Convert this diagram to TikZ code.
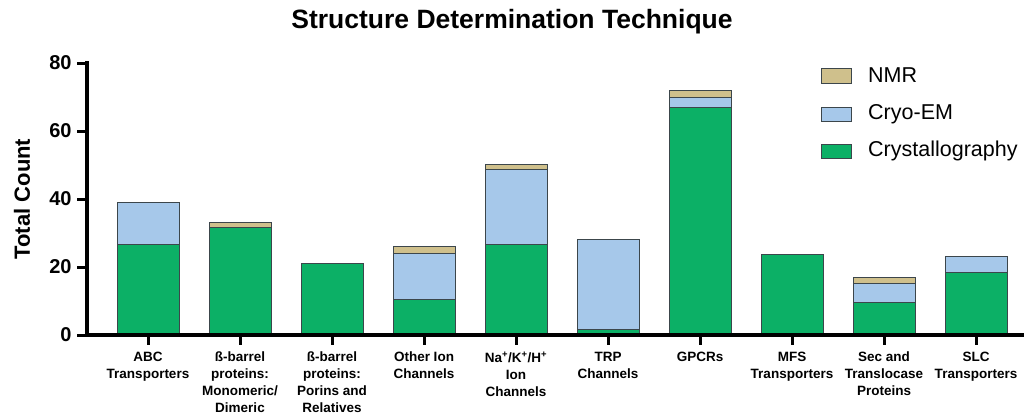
\documentclass[tikz,border=0pt]{standalone}
\usepackage{fontspec}
\setmainfont{Liberation Sans}
\definecolor{crys}{RGB}{12,176,102}
\definecolor{cryo}{RGB}{166,200,234}
\definecolor{nmr}{RGB}{207,192,140}
\definecolor{edge}{RGB}{60,70,75}
\tikzset{
  seg/.style={draw=edge, line width=0.9pt},
  axis/.style={line width=3.2pt, line cap=rect},
  tick/.style={line width=3pt},
  ylab/.style={anchor=east, inner sep=0pt, font=\fontsize{20}{22}\selectfont\bfseries},
  xlab/.style={anchor=north, inner sep=0pt, align=center, font=\fontsize{13.5}{17}\selectfont\bfseries},
  leg/.style={anchor=west, inner sep=0pt, font=\fontsize{21.5}{24}\selectfont},
}
\newcommand\segm[4]{% x, bottom value, top value, colour
  \filldraw[seg, fill=#4] ({#1-31},{335-3.4*#2}) rectangle ({#1+31},{335-3.4*#3});}
\begin{document}
\begin{tikzpicture}[x=1pt, y=-1pt]
\path[use as bounding box, fill=white] (0,0) rectangle (1026,416);
% title
\node[font=\fontsize{26.5}{30}\selectfont\bfseries, inner sep=0pt] (title) at (512,22) {Structure Determination Technique};
% bars
\segm{148}{0}{26.5}{crys}\segm{148}{26.5}{39}{cryo}
\segm{240}{0}{31.5}{crys}\segm{240}{31.5}{33.2}{nmr}
\segm{332}{0}{21}{crys}
\segm{424}{0}{10.5}{crys}\segm{424}{10.5}{24.1}{cryo}\segm{424}{24.1}{25.9}{nmr}
\segm{516}{0}{26.5}{crys}\segm{516}{26.5}{48.8}{cryo}\segm{516}{48.8}{50.3}{nmr}
\segm{608}{0}{1.5}{crys}\segm{608}{1.5}{28}{cryo}
\segm{700}{0}{66.8}{crys}\segm{700}{66.8}{70}{cryo}\segm{700}{70}{72}{nmr}
\segm{792}{0}{23.7}{crys}
\segm{884}{0}{9.7}{crys}\segm{884}{9.7}{15.2}{cryo}\segm{884}{15.2}{17}{nmr}
\segm{976}{0}{18.5}{crys}\segm{976}{18.5}{23}{cryo}
% axes
\coordinate (o) at (87,335);
\coordinate (ytop) at (87,63);
\coordinate (xend) at (1022,335);
\draw[axis] (ytop) -- (o) -- (xend);
\foreach \v/\n in {0/y0,20/y20,40/y40,60/y60,80/y80}{
  \coordinate (\n) at (87,{335-3.4*\v});
  \draw[tick] (\n) -- ++(-10,0) node[ylab, xshift=-4pt] {\v};
}
\foreach \x/\n in {148/t1,240/t2,332/t3,424/t4,516/t5,608/t6,700/t7,792/t8,884/t9,976/t10}{
  \coordinate (\n) at (\x,335);
  \draw[tick] (\n) -- ++(0,10);
}
\node[xlab] (l1) at (148,352) {ABC\\Transporters};
\node[xlab] (l2) at (240,352) {ß-barrel\\proteins:\\Monomeric/\\Dimeric};
\node[xlab] (l3) at (332,352) {ß-barrel\\proteins:\\Porins and\\Relatives};
\node[xlab] (l4) at (424,352) {Other Ion\\Channels};
\node[xlab] (l5) at (516,352) {Na\textsuperscript{+}/K\textsuperscript{+}/H\textsuperscript{+}\\Ion\\Channels};
\node[xlab] (l6) at (608,352) {TRP\\Channels};
\node[xlab] (l7) at (700,352) {GPCRs};
\node[xlab] (l8) at (792,352) {MFS\\Transporters};
\node[xlab] (l9) at (884,352) {Sec and\\Translocase\\Proteins};
\node[xlab] (l10) at (976,352) {SLC\\Transporters};
% y label
\node[rotate=90, inner sep=0pt, font=\fontsize{22}{24}\selectfont\bfseries] (ylabel) at (22,199) {Total Count};
% legend
\filldraw[seg, fill=nmr] (821,68) rectangle (851,83);
\node[leg] (ln) at (868,75) {NMR};
\filldraw[seg, fill=cryo] (821,107) rectangle (851,121);
\node[leg] (lc) at (868,114) {Cryo-EM};
\filldraw[seg, fill=crys] (821,144) rectangle (851,158);
\node[leg] (lx) at (868,151) {Crystallography};
\end{tikzpicture}
\end{document}
